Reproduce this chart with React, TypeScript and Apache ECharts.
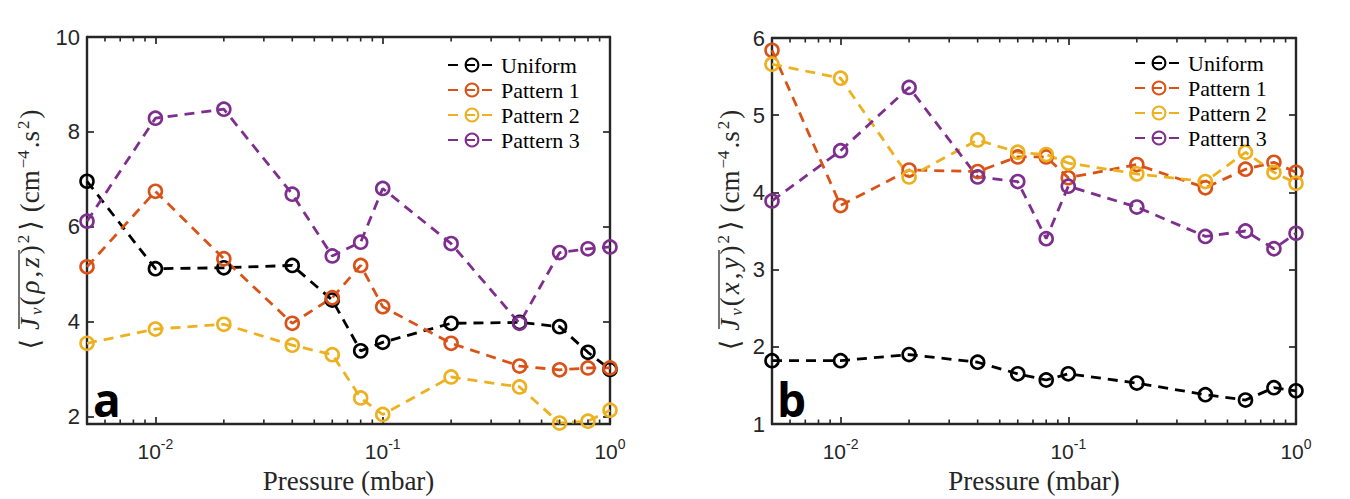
import React, { useEffect, useRef } from 'react';
import * as echarts from 'echarts';

const pressure = [0.005, 0.01, 0.02, 0.04, 0.06, 0.08, 0.1, 0.2, 0.4, 0.6, 0.8, 1];
const seriesNames = ['Uniform', 'Pattern 1', 'Pattern 2', 'Pattern 3'];
const colors = ['#000000', '#D95319', '#EDB120', '#7E2F8E'];

// Panel a: <J_v(rho,z)^2>
const aUniform = [6.96, 5.12, 5.14, 5.19, 4.46, 3.39, 3.57, 3.97, 3.99, 3.9, 3.36, 3.0];
const aPattern1 = [5.16, 6.75, 5.33, 3.97, 4.51, 5.19, 4.32, 3.55, 3.07, 2.99, 3.03, 3.03];
const aPattern2 = [3.55, 3.85, 3.95, 3.51, 3.31, 2.4, 2.05, 2.84, 2.63, 1.87, 1.91, 2.14];
const aPattern3 = [6.12, 8.29, 8.48, 6.69, 5.39, 5.68, 6.81, 5.65, 3.97, 5.46, 5.54, 5.58];

// Panel b: <J_v(x,y)^2>
const bUniform = [1.82, 1.82, 1.9, 1.8, 1.65, 1.57, 1.65, 1.53, 1.38, 1.31, 1.47, 1.43];
const bPattern1 = [5.84, 3.83, 4.29, 4.27, 4.46, 4.46, 4.19, 4.36, 4.06, 4.3, 4.39, 4.26];
const bPattern2 = [5.66, 5.48, 4.2, 4.68, 4.52, 4.49, 4.38, 4.24, 4.14, 4.52, 4.26, 4.12];
const bPattern3 = [3.89, 4.54, 5.36, 4.2, 4.14, 3.4, 4.08, 3.81, 3.43, 3.5, 3.27, 3.47];

const minorTicks = [
  0.006, 0.007, 0.008, 0.009,
  0.02, 0.03, 0.04, 0.05, 0.06, 0.07, 0.08, 0.09,
  0.2, 0.3, 0.4, 0.5, 0.6, 0.7, 0.8, 0.9,
];

const AXIS = '#262626';
const SERIF = '"Liberation Serif", "DejaVu Serif", serif';
const SANS = '"Liberation Sans", Arial, sans-serif';

function logLabel(v: number): string {
  const e = Math.log10(v);
  if (Math.abs(e - Math.round(e)) < 1e-6) {
    return '{b|10}{s|' + Math.round(e) + '}';
  }
  return '';
}

function xAxes(gridIndex: number) {
  const common = {
    type: 'log',
    gridIndex,
    min: 0.005,
    max: 1,
    logBase: 10,
    axisLine: { show: true, lineStyle: { color: AXIS, width: 2.4 } },
    axisTick: { show: true, inside: true, length: 7, lineStyle: { color: AXIS, width: 1.7 } },
    splitLine: { show: false },
    minorTick: { show: false },
  };
  return [
    {
      ...common,
      position: 'bottom',
      name: 'Pressure (mbar)',
      nameLocation: 'middle',
      nameGap: 43,
      nameMoveOverlap: false,
      nameTextStyle: { fontFamily: SERIF, fontSize: 27, color: AXIS },
      axisLabel: {
        show: true,
        margin: 13,
        formatter: (v: number) => logLabel(v),
        rich: {
          b: { fontFamily: SANS, fontSize: 21, color: AXIS, lineHeight: 25, verticalAlign: 'bottom' },
          s: { fontFamily: SANS, fontSize: 14, color: AXIS, lineHeight: 10, verticalAlign: 'top' },
        },
      },
    },
    {
      ...common,
      position: 'top',
      axisLabel: { show: false },
    },
  ];
}

function yAxes(gridIndex: number, min: number, max: number, nameVar: string, nameGap: number, interval?: number) {
  const common: any = {
    type: 'value',
    gridIndex,
    min,
    max,
    axisLine: { show: true, lineStyle: { color: AXIS, width: 2.4 } },
    axisTick: { show: true, inside: true, length: 7, lineStyle: { color: AXIS, width: 1.7 } },
    splitLine: { show: false },
  };
  if (interval) common.interval = interval;
  return [
    {
      ...common,
      position: 'left',
      axisLabel: {
        show: true,
        margin: 7,
        fontFamily: SANS,
        fontSize: 22,
        color: AXIS,
        formatter: (v: number) => (Math.abs(v - Math.round(v)) < 1e-6 ? String(Math.round(v)) : ''),
      },
      name:
        '{br|\u27E8}{it|J}{sub|v}{t|(}{it|' + nameVar[0] + '}{t|,}{it|' + nameVar[1] +
        '}{t|)}{sup|2}{br|\u27E9}{t|(cm}{sup|\u22124}{t|.s}{sup|2}{t|)}',
      nameLocation: 'middle',
      nameRotate: 90,
      nameGap,
      nameMoveOverlap: false,
      nameTextStyle: {
        rich: {
          t: { fontFamily: SERIF, fontSize: 27, color: AXIS, lineHeight: 30, padding: [0, 1] },
          br: { fontFamily: SERIF, fontSize: 27, color: AXIS, lineHeight: 30, padding: [0, 7, 0, 3] },
          it: { fontFamily: SERIF, fontSize: 27, fontStyle: 'italic', color: AXIS, lineHeight: 30, padding: [0, 2] },
          sub: { fontFamily: SERIF, fontSize: 17, fontStyle: 'italic', color: AXIS, lineHeight: 10, verticalAlign: 'bottom', padding: [0, 1] },
          sup: { fontFamily: SERIF, fontSize: 17, color: AXIS, lineHeight: 10, verticalAlign: 'top', padding: [0, 1] },
        },
      },
    },
    {
      ...common,
      position: 'right',
      axisLabel: { show: false },
    },
  ];
}

function lineSeries(name: string, color: string, values: number[], xi: number, yi: number) {
  return {
    type: 'line',
    name,
    xAxisIndex: xi,
    yAxisIndex: yi,
    data: pressure.map((p, i) => [p, values[i]]),
    symbol: 'circle',
    symbolSize: 13,
    showSymbol: true,
    clip: false,
    lineStyle: { color, width: 2.8, type: [10, 7] },
    itemStyle: { color: 'rgba(255,255,255,0)', borderColor: color, borderWidth: 2.6 },
    emphasis: { disabled: true },
    z: 3,
  };
}

function minorTickSeries(xi: number, yi: number) {
  return {
    type: 'custom',
    xAxisIndex: xi,
    yAxisIndex: yi,
    silent: true,
    clip: false,
    z: 5,
    data: minorTicks.map((v) => [v, 5]),
    encode: { x: 0, y: 1 },
    renderItem: (params: any, api: any) => {
      const x = api.coord([api.value(0), api.value(1)])[0];
      const cs = params.coordSys;
      const st = { stroke: AXIS, lineWidth: 1.6 };
      return {
        type: 'group',
        children: [
          { type: 'line', shape: { x1: x, y1: cs.y + cs.height, x2: x, y2: cs.y + cs.height - 4.5 }, style: st },
          { type: 'line', shape: { x1: x, y1: cs.y, x2: x, y2: cs.y + 4.5 }, style: st },
        ],
      };
    },
  };
}

function legend(left: number, top: number) {
  return {
    left,
    top,
    padding: 0,
    orient: 'vertical',
    itemWidth: 48,
    itemHeight: 16,
    itemGap: 3,
    data: seriesNames,
    selectedMode: false,
    textStyle: { fontFamily: SERIF, fontSize: 22, color: '#000' },
  };
}

function overline(x: number) {
  return {
    type: 'line',
    z: 10,
    silent: true,
    shape: { x1: x, y1: 250, x2: x, y2: 329 },
    style: { stroke: AXIS, lineWidth: 1.3 },
  };
}

function panelLetter(text: string, x: number) {
  return {
    type: 'text',
    x,
    y: 399,
    z: 10,
    style: { text, fontFamily: '"Open Sans", sans-serif', fontWeight: 'bold', fontSize: 46, fill: '#000', verticalAlign: 'middle' },
  };
}

export default function App() {
  const ref = useRef<HTMLDivElement>(null);
  useEffect(() => {
    if (!ref.current) return;
    const chart = echarts.init(ref.current, undefined, { renderer: 'svg' });
    const option: any = {
      animation: false,
      backgroundColor: '#ffffff',
      grid: [
        { left: 87, top: 37, width: 523, height: 389 },
        { left: 772, top: 38, width: 524, height: 387 },
      ],
      xAxis: [...xAxes(0), ...xAxes(1)],
      yAxis: [...yAxes(0, 1.85, 10, '\u03C1z', 42), ...yAxes(1, 1, 6, 'xy', 27, 1)],
      legend: [legend(447, 54), legend(1134, 52)],
      series: [
        lineSeries(seriesNames[0], colors[0], aUniform, 0, 0),
        lineSeries(seriesNames[1], colors[1], aPattern1, 0, 0),
        lineSeries(seriesNames[2], colors[2], aPattern2, 0, 0),
        lineSeries(seriesNames[3], colors[3], aPattern3, 0, 0),
        lineSeries(seriesNames[0], colors[0], bUniform, 2, 2),
        lineSeries(seriesNames[1], colors[1], bPattern1, 2, 2),
        lineSeries(seriesNames[2], colors[2], bPattern2, 2, 2),
        lineSeries(seriesNames[3], colors[3], bPattern3, 2, 2),
        minorTickSeries(0, 0),
        minorTickSeries(2, 2),
      ],
      graphic: [panelLetter('a', 93), panelLetter('b', 777), overline(19), overline(719)],
    };
    chart.setOption(option);
    return () => chart.dispose();
  }, []);
  return (
    <div
      ref={ref}
      style={{ position: 'fixed', left: 0, top: 0, width: 1350, height: 499, background: '#fff' }}
    />
  );
}
